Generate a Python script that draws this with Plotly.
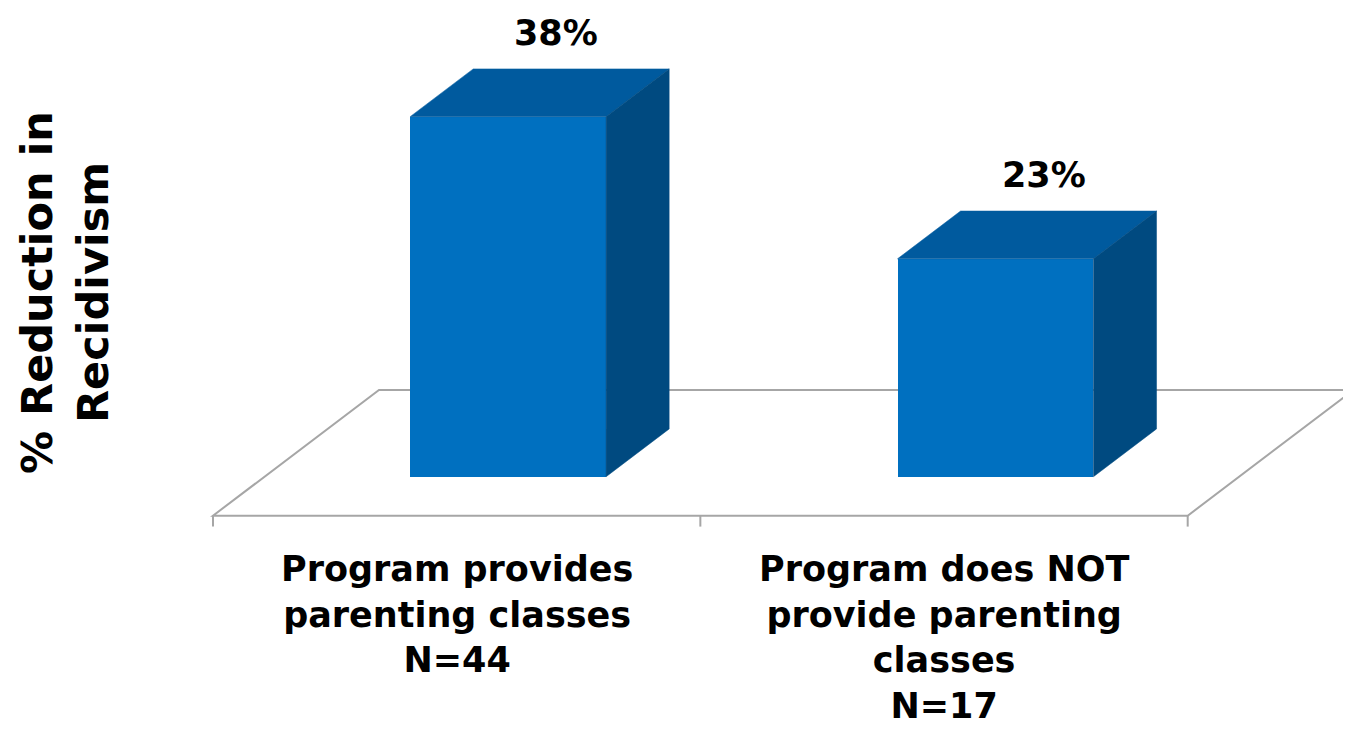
import plotly.graph_objects as go

# ---- data ----
categories = ["Program provides<br>parenting classes<br>N=44",
              "Program does NOT<br>provide parenting<br>classes<br>N=17"]
values = [38, 23]
value_labels = ["38%", "23%"]
y_title = "% Reduction in<br>Recidivism"

# ---- 3D projection style constants ----
SLOT = 1.0            # category slot width (x units)
BAR_W = 0.402         # bar width in slots
DEPTH_DX = 0.3406     # x shift for full floor depth (slots)
DEPTH_DY = 13.27      # y shift for full floor depth (value units)
D_FRONT, D_BACK = 0.31, 0.69   # bar depth span within floor
FRONT_C = "#0070C0"
TOP_C = "#005A9E"
SIDE_C = "#004A80"
FLOOR_C = "#A6A6A6"
FONT = "DejaVu Sans"

# page is offset by the 8px body margin
OFF = 8
W, H = 1351 - OFF, 729 - OFF
PX_X = 487.35   # px per slot
PX_Y = 9.475    # px per value unit
X0_PAGE, Y0_PAGE = 213, 515.7   # page pixel of slot 0 / value 0 on floor front

n = len(values)
centers = [SLOT * (i + 0.5) for i in range(n)]

def proj(x, v, d):
    return x + d * DEPTH_DX, v + d * DEPTH_DY

fig = go.Figure()

# floor (shapes below traces)
floor_pts = [proj(0, 0, 0), proj(n * SLOT, 0, 0), proj(n * SLOT, 0, 1), proj(0, 0, 1)]
path = "M " + " L ".join(f"{x},{y}" for x, y in floor_pts) + " Z"
fig.add_shape(type="path", path=path, xref="x", yref="y", layer="below",
              line=dict(color=FLOOR_C, width=2), fillcolor="rgba(0,0,0,0)")
for i in range(n + 1):
    fig.add_shape(type="line", xref="x", yref="y", layer="below",
                  x0=i * SLOT, x1=i * SLOT, y0=0, y1=-1.15,
                  line=dict(color=FLOOR_C, width=2))

# front faces
fig.add_trace(go.Bar(x=[c + D_FRONT * DEPTH_DX for c in centers],
                     y=values, base=[D_FRONT * DEPTH_DY] * n, width=BAR_W,
                     marker=dict(color=FRONT_C, line=dict(width=0)),
                     hoverinfo="skip", showlegend=False))

# top and side faces
for c, v in zip(centers, values):
    xl, xr = c - BAR_W / 2, c + BAR_W / 2
    top = [proj(xl, v, D_FRONT), proj(xr, v, D_FRONT), proj(xr, v, D_BACK), proj(xl, v, D_BACK)]
    side = [proj(xr, 0, D_FRONT), proj(xr, v, D_FRONT), proj(xr, v, D_BACK), proj(xr, 0, D_BACK)]
    for pts, col in ((top, TOP_C), (side, SIDE_C)):
        pts = pts + [pts[0]]
        fig.add_trace(go.Scatter(x=[p[0] for p in pts], y=[p[1] for p in pts],
                                 mode="lines", fill="toself", fillcolor=col,
                                 line=dict(color=col, width=0.5),
                                 hoverinfo="skip", showlegend=False))

# value labels
for c, v, lab in zip(centers, values, value_labels):
    lx, ly = proj(c, v, D_BACK)
    fig.add_annotation(x=c + 0.6 * DEPTH_DX, y=ly, text=f"<b>{lab}</b>", showarrow=False,
                       xanchor="center", yanchor="bottom", yshift=14,
                       font=dict(family=FONT, size=35, color="black"))

# category labels
for c, cat in zip(centers, categories):
    fig.add_annotation(x=c, y=0, text=f"<b>{cat}</b>", showarrow=False,
                       xanchor="center", yanchor="top", yshift=-31,
                       font=dict(family=FONT, size=35, color="black"))

# y title
fig.add_annotation(xref="paper", yref="paper", x=(65 - OFF) / W, y=1 - (293 - OFF) / H,
                   text=f"<b>{y_title}</b>", textangle=-90, showarrow=False,
                   xanchor="center", yanchor="middle",
                   font=dict(family=FONT, size=43, color="black"))

fig.update_layout(
    width=W, height=H,
    margin=dict(l=0, r=0, t=0, b=0),
    paper_bgcolor="white", plot_bgcolor="white",
    xaxis=dict(range=[(OFF - X0_PAGE) / PX_X, (1351 - X0_PAGE) / PX_X],
               visible=False, fixedrange=True),
    yaxis=dict(range=[-(729 - Y0_PAGE) / PX_Y, (Y0_PAGE - OFF) / PX_Y],
               visible=False, fixedrange=True),
    bargap=0,
)

fig.write_html("out.html")
